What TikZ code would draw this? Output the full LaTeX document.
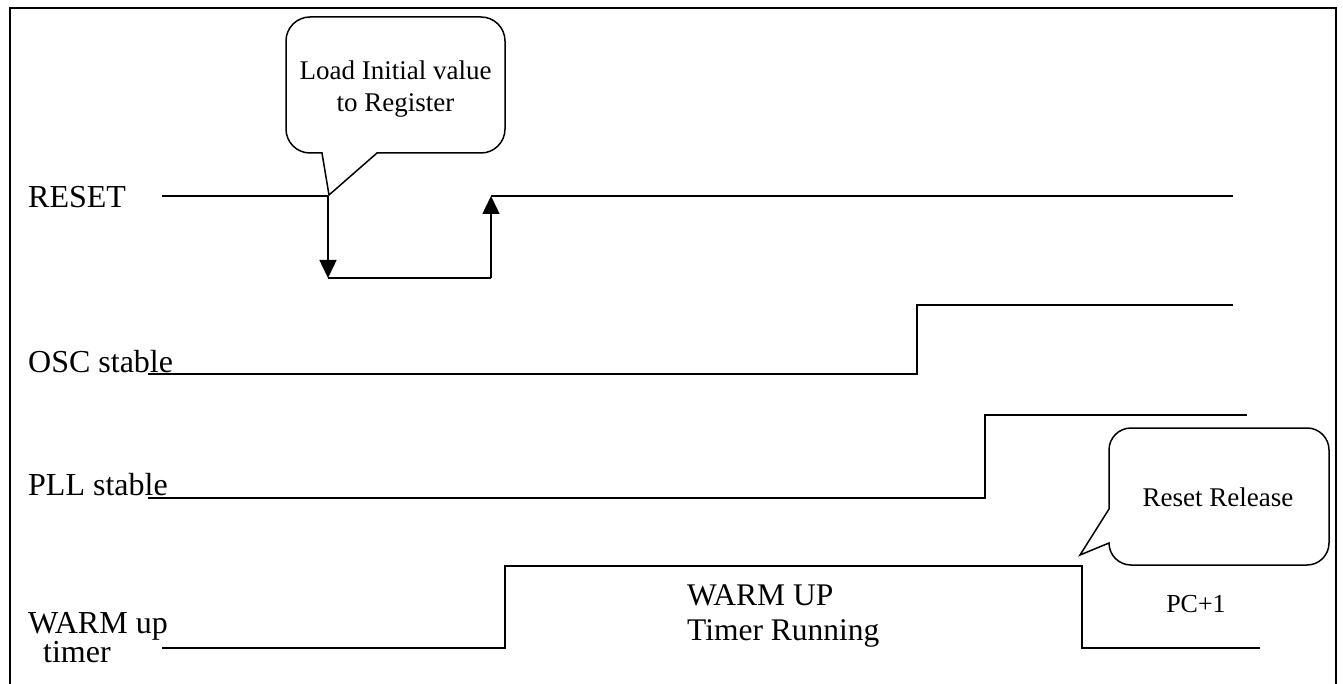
\documentclass[tikz,border=0pt]{standalone}
\usepackage{fontspec}
\setmainfont{Liberation Serif}
\usetikzlibrary{arrows.meta}
\tikzset{
  sig/.style={line width=1.5pt, line join=miter},
  framestyle/.style={line width=2pt},
  arrowsig/.style={sig, -{Triangle[width=17pt,length=18pt]}},
  lbl/.style={anchor=base west, inner sep=0pt, font=\fontsize{32}{36}\selectfont},
  calltext/.style={anchor=base, inner sep=0pt, font=\fontsize{27}{32}\selectfont},
  midtext/.style={anchor=base west, inner sep=0pt, font=\fontsize{31.5}{35}\selectfont},
}
\begin{document}
\begin{tikzpicture}[x=1pt,y=-1pt]
\useasboundingbox (0,0) rectangle (1343,684);
% frame
\draw[framestyle] (10,684) -- (10,8) -- (1336,8) -- (1336,684);

% labels
\node[lbl] (lreset) at (28,208) {RESET};
\node[lbl] (losc) at (28,372) {OSC stable};
\node[lbl] (lpll) at (28,495) {PLL stable};
\node[lbl] (lwarm) at (28,633) {WARM up};
\node[lbl] (ltimer) at (43,662) {timer};

% RESET signal
\coordinate (r0) at (162,196);
\coordinate (r1) at (328,196);
\coordinate (r2) at (328,278);
\coordinate (r3) at (491,278);
\coordinate (r4) at (491,196);
\coordinate (r5) at (1233,196);
\draw[sig] (r0) -- (r1);
\draw[arrowsig] (r1) -- (r2);
\draw[sig] (r2) -- (r3);
\draw[arrowsig] (r3) -- (r4);
\draw[sig] (r4) -- (r5);

% OSC stable
\draw[sig] (148,374) -- (917,374) -- (917,305) -- (1233,305);
% PLL stable
\draw[sig] (148,498) -- (985,498) -- (985,415) -- (1247,415);
% WARM up timer
\draw[sig] (162,648) -- (505,648) -- (505,566) -- (1082,566) -- (1082,648) -- (1260,648);

\node[midtext] (wu1) at (687,605) {WARM UP};
\node[midtext] (wu2) at (687,640) {Timer Running};
\node[anchor=base, inner sep=0pt, font=\fontsize{26}{30}\selectfont] (pc) at (1196,612) {PC+1};

% callout 1
\draw[sig] (322,153) [rounded corners=24pt] -- (286,153) -- (286,17) -- (505,17) -- (505,153) [sharp corners] -- (377,153) -- (329,195) -- cycle;
\node[calltext] (c1a) at (395.5,80) {Load Initial value};
\node[calltext] (c1b) at (395.5,112) {to Register};

% callout 2
\draw[sig] (1109,509) [rounded corners=22pt] -- (1109,428) -- (1329,428) -- (1329,565) -- (1109,565) [sharp corners] -- (1109,543) -- (1080,555) -- cycle;
\node[calltext] (c2) at (1218,506) {Reset Release};
\end{tikzpicture}
\end{document}
